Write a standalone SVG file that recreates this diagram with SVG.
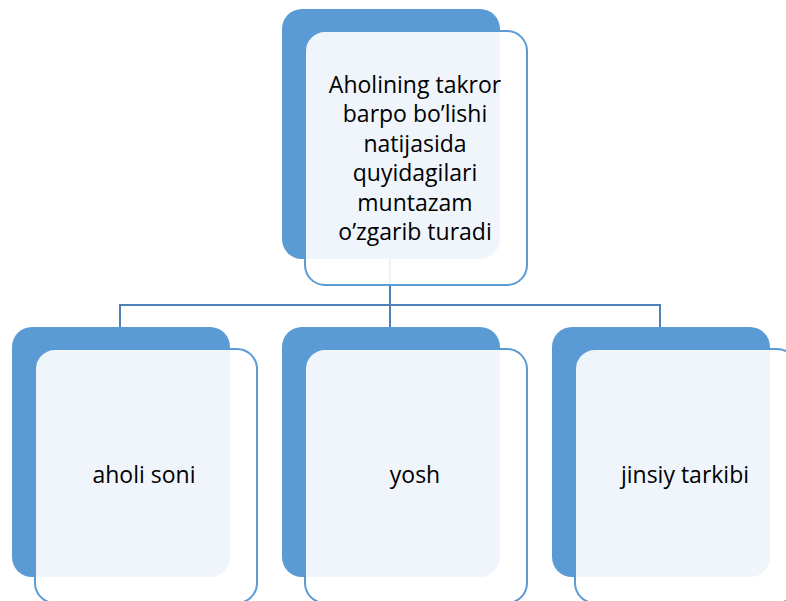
<svg xmlns="http://www.w3.org/2000/svg" width="786" height="601" viewBox="0 0 786 601">
<style>
.back{fill:#5B9BD5}
.front{fill:#FFFFFF;fill-opacity:0.9;stroke:#5B9BD5;stroke-width:2}
.conn{fill:none;stroke:#4F80B6;stroke-width:2}
text{font-family:"Open Sans","Liberation Sans",Arial,sans-serif;font-size:23px;fill:#000;text-anchor:middle}
</style>
<rect width="786" height="601" fill="#FFFFFF"/>
<g id="backs">
<rect class="back" x="282" y="9" width="218" height="250" rx="20"/>
<rect class="back" x="12" y="327" width="218" height="250" rx="20"/>
<rect class="back" x="282" y="327" width="218" height="250" rx="20"/>
<rect class="back" x="552" y="327" width="218" height="250" rx="20"/>
</g>
<g id="connectors">
<path class="conn" d="M390,259 V305 M120,323 V305 H660 V327 M390,305 V327 M120,305 V327"/>
</g>
<g id="node-top">
<rect class="front" x="305" y="31" width="222" height="254" rx="20"/>
<text x="415" y="93">Aholining takror</text>
<text x="415" y="122.4">barpo bo’lishi</text>
<text x="415" y="151.8">natijasida</text>
<text x="415" y="181.2">quyidagilari</text>
<text x="415" y="210.6">muntazam</text>
<text x="415" y="240">o’zgarib turadi</text>
</g>
<g id="node-aholi-soni">
<rect class="front" x="35" y="349" width="222" height="254" rx="20"/>
<text x="144" y="483">aholi soni</text>
</g>
<g id="node-yosh">
<rect class="front" x="305" y="349" width="222" height="254" rx="20"/>
<text x="415" y="483">yosh</text>
</g>
<g id="node-jinsiy">
<rect class="front" x="575" y="349" width="222" height="254" rx="20"/>
<text x="685" y="483">jinsiy tarkibi</text>
</g>
</svg>
